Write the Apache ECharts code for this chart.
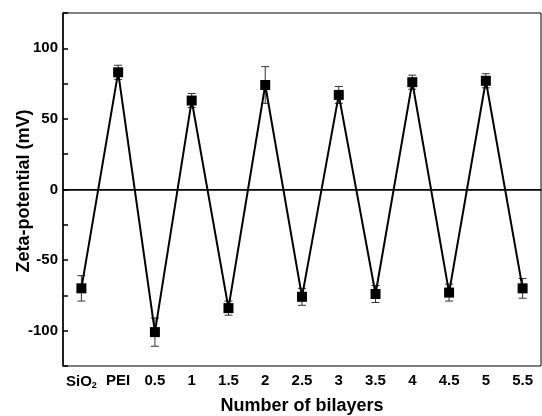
<!DOCTYPE html>
<html>
<head>
<meta charset="utf-8">
<script src="https://cdn.jsdelivr.net/npm/echarts@6/dist/echarts.min.js"></script>
<style>html,body{margin:0;padding:0;background:#fff;}#c{width:542px;height:416px;}</style>
</head>
<body>
<div id="c"></div>
<script>
var categories = ['SiO2', 'PEI', '0.5', '1', '1.5', '2', '2.5', '3', '3.5', '4', '4.5', '5', '5.5'];
var zeta = [-70, 83, -101, 63, -84, 74, -76, 67, -74, 76, -73, 77, -70];
var zetaErr = [9, 5, 10, 5, 5, 13, 6, 6, 6, 5, 6, 5, 7];
var yTicks = [-100, -50, 0, 50, 100];
var yTitle = 'Zeta-potential (mV)';
var xTitle = 'Number of bilayers';

var errData = zeta.map(function (v, i) { return [i, v - zetaErr[i], v + zetaErr[i]]; });
var font = '"Liberation Sans", Arial, sans-serif';

var chart = echarts.init(document.getElementById('c'), null, { renderer: 'canvas' });
chart.setOption({
  animation: false,
  backgroundColor: '#fff',
  grid: { left: 63, right: 1, top: 13, bottom: 50, show: true, borderColor: '#000', borderWidth: 1, outerBoundsMode: 'none', containLabel: false },
  graphic: [{
    type: 'text',
    x: 24, y: 191,
    rotation: Math.PI / 2,
    style: { text: yTitle, fontFamily: font, fontWeight: 'bold', fontSize: 18, fill: '#000', align: 'center', verticalAlign: 'middle' }
  }],
  xAxis: {
    type: 'category',
    data: categories,
    boundaryGap: true,
    name: xTitle,
    nameLocation: 'middle',
    nameGap: 31,
    nameTextStyle: { fontFamily: font, fontWeight: 'bold', fontSize: 18, color: '#000' },
    axisLine: { lineStyle: { color: '#000', width: 1.5 } },
    axisTick: { inside: true, alignWithLabel: true, length: 5, lineStyle: { color: '#000', width: 1.5 } },
    axisLabel: {
      margin: 7, color: '#000', fontFamily: font, fontWeight: 'bold', fontSize: 15, interval: 0,
      formatter: function (v) { return v === 'SiO2' ? 'SiO{sub|2}' : v; },
      rich: { sub: { fontFamily: font, fontWeight: 'bold', fontSize: 9, color: '#000', verticalAlign: 'bottom', padding: [8, 0, 0, 0] } }
    },
    splitLine: { show: false }
  },
  yAxis: {
    type: 'value',
    min: -125, max: 125, interval: 25,
    axisLine: { show: true, lineStyle: { color: '#000', width: 1.5 } },
    axisTick: { show: true, inside: true, length: 5, lineStyle: { color: '#000', width: 1.5 } },
    axisLabel: {
      margin: 5, color: '#000', fontFamily: font, fontWeight: 'bold', fontSize: 15,
      formatter: function (v) { return yTicks.indexOf(v) >= 0 ? String(v) : ''; }
    },
    splitLine: { show: false }
  },
  series: [
    {
      type: 'custom',
      z: 1,
      data: errData,
      renderItem: function (params, api) {
        var x = api.value(0);
        var lo = api.coord([x, api.value(1)]);
        var hi = api.coord([x, api.value(2)]);
        var w = 4;
        var st = { stroke: '#333', lineWidth: 1 };
        return {
          type: 'group',
          children: [
            { type: 'line', shape: { x1: hi[0], y1: hi[1], x2: lo[0], y2: lo[1] }, style: st },
            { type: 'line', shape: { x1: hi[0] - w, y1: hi[1], x2: hi[0] + w, y2: hi[1] }, style: st },
            { type: 'line', shape: { x1: lo[0] - w, y1: lo[1], x2: lo[0] + w, y2: lo[1] }, style: st }
          ]
        };
      }
    },
    {
      type: 'line',
      z: 2,
      data: zeta,
      symbol: 'rect',
      symbolSize: 10,
      showAllSymbol: true,
      lineStyle: { color: '#000', width: 2 },
      itemStyle: { color: '#000' },
      markLine: {
        silent: true,
        symbol: 'none',
        label: { show: false },
        lineStyle: { color: '#000', width: 1, type: 'solid' },
        data: [{ yAxis: 0 }]
      }
    }
  ]
});
</script>
</body>
</html>
